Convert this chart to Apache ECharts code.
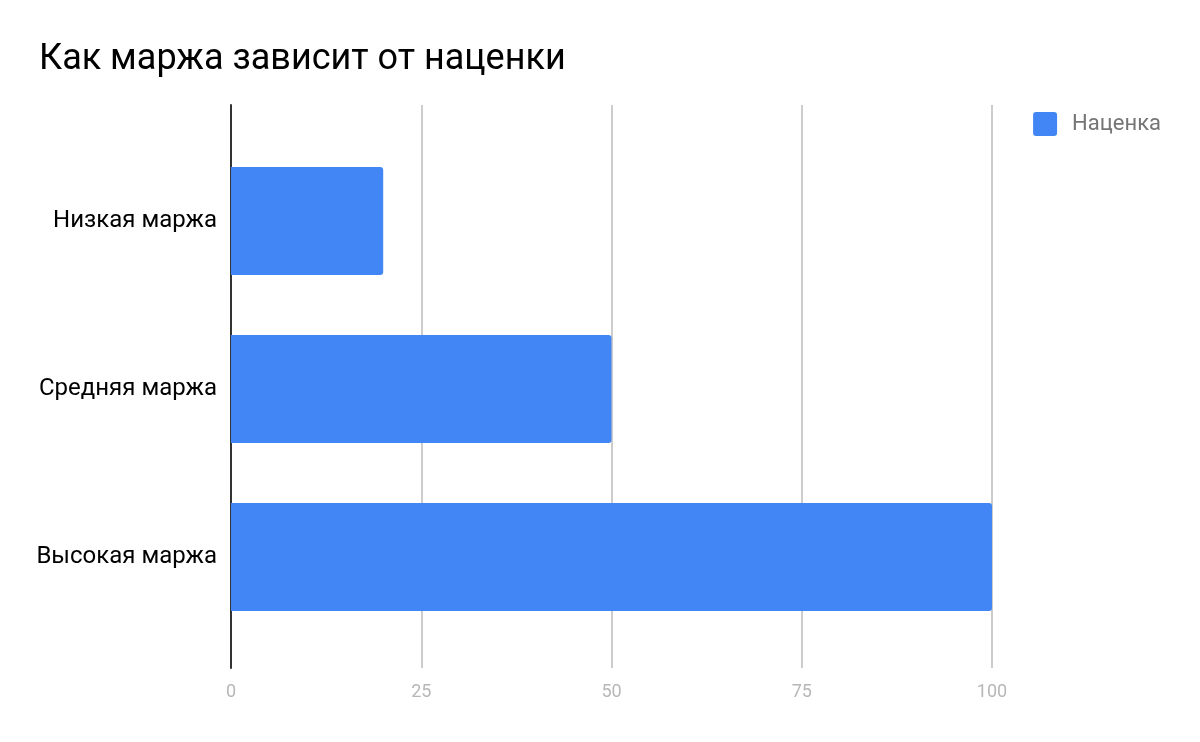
<!DOCTYPE html>
<html>
<head>
<meta charset="utf-8">
<script src="https://cdn.jsdelivr.net/npm/echarts@6/dist/echarts.min.js"></script>
<style>
  html, body { margin: 0; padding: 0; background: #fff; }
  #chart { width: 1200px; height: 742px; }
</style>
</head>
<body>
<div id="chart"></div>
<script>
// данные с картинки
const categories = ["Низкая маржа", "Средняя маржа", "Высокая маржа"];
const markup = [20, 50, 100];
const xTicks = [0, 25, 50, 75, 100];

const xMin = xTicks[0], xMax = xTicks[xTicks.length - 1];

const chart = echarts.init(document.getElementById("chart"), null, { renderer: "canvas" });
chart.setOption({
  animation: false,
  textStyle: { fontFamily: "Roboto" },
  title: {
    text: "Как маржа зависит от наценки",
    left: 34, top: 37,
    textStyle: { fontFamily: "Roboto", fontSize: 36, fontWeight: "normal", color: "#000" }
  },
  legend: {
    right: 34, top: 107,
    itemWidth: 24, itemHeight: 24, itemGap: 10,
    icon: "path://M3,0H21Q24,0 24,3V21Q24,24 21,24H3Q0,24 0,21V3Q0,0 3,0Z",
    textStyle: { fontFamily: "Roboto", fontSize: 22, color: "#757575", padding: [0, 0, 0, 10] },
    data: ["Наценка"]
  },
  // сетка 0 — линии и подписи шкалы, сетка 1 — сами столбцы (у Google полосы уже оси)
  grid: [
    { left: 231, right: 208, top: 105, bottom: 74 },
    { left: 231, right: 208, top: 137, bottom: 101 }
  ],
  xAxis: [{
    type: "value", gridIndex: 0,
    min: xMin, max: xMax, interval: 25,
    axisLine: { show: false },
    axisTick: { show: false },
    splitLine: { lineStyle: { color: "#cccccc", width: 2 } },
    axisLabel: { color: "#b7b7b7", fontSize: 18, margin: 15 }
  }, {
    type: "value", gridIndex: 1,
    min: xMin, max: xMax, interval: 25,
    show: false
  }],
  yAxis: [{
    type: "category", gridIndex: 0,
    data: categories,
    axisLine: { show: true, lineStyle: { color: "#333", width: 2 } },
    axisTick: { show: false },
    axisLabel: { show: false }
  }, {
    type: "category", gridIndex: 1,
    inverse: true,
    data: categories,
    axisLine: { show: false },
    axisTick: { show: false },
    axisLabel: { color: "#000", fontSize: 24, margin: 14 }
  }],
  series: [{
    name: "Наценка",
    type: "bar",
    xAxisIndex: 1, yAxisIndex: 1,
    data: markup,
    barWidth: 108,
    itemStyle: { color: "#4285f4", borderRadius: [0, 3, 3, 0] }
  }]
});
</script>
</body>
</html>
